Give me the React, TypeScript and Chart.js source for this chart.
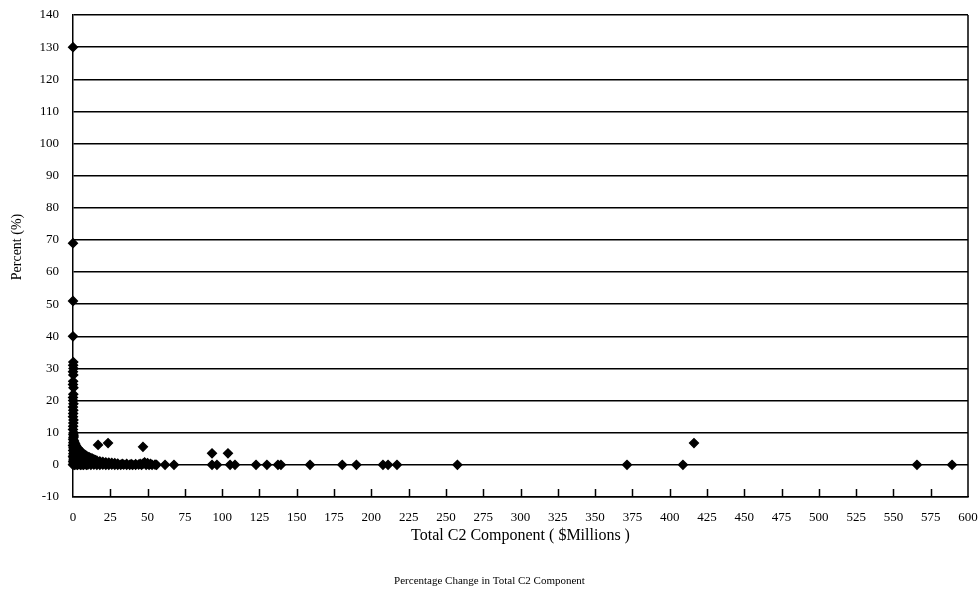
import { useEffect, useRef } from "react";
import { Chart, registerables } from "chart.js";

Chart.register(...registerables);

const SERIF = "'Liberation Serif', 'Times New Roman', serif";

// Axis ranges and tick spacing
const X_MIN = 0;
const X_MAX = 600;
const X_STEP = 25;
const Y_MIN = -10;
const Y_MAX = 140;
const Y_STEP = 10;

const Y_TITLE = "Percent (%)";

// Observations sitting right on the vertical axis (tiny C2 totals)
const axisX = [0, 0, 0, 0, 0.2, 0.1, 0.3, 0, 0.2, 0.1, 0, 0.3, 0.2, 0, 0.1, 0.3, 0, 0.2, 0.1, 0, 0.3, 0.2, 0.1, 0, 0.4, 0.2, 0.5, 0.3, 0.1, 0.6, 0.2, 0.4, 0, 0.3, 0.5, 0.1, 0.7, 0.2, 0.4, 0, 0.6, 0.3, 0.1, 0.5, 0];
const axisY = [130, 69, 51, 40, 32, 31, 30, 29, 28, 26, 25, 24, 22, 21, 20, 19, 18, 17, 16, 15, 14, 13, 12, 11, 10, 9.5, 9, 8.5, 8, 7.5, 7, 6.5, 6, 5.5, 5, 4.5, 4, 3.5, 3, 2.5, 2, 1.5, 1, 0.5, 0];

// Dense group of small components, falling off toward zero
const clusterX = [
  1, 1.5, 2, 3, 4, 5, 6, 7, 8, 9, 10, 11, 12, 13, 14, 15, 16, 18, 20, 22, 24, 26, 28, 30, 33, 36, 39, 42, 45, 48, 50, 52, 55,
  1, 2, 3, 4, 5, 6, 7, 8, 9, 10, 11, 12, 13, 14, 16, 18,
  1, 2, 3, 4, 5, 6, 7, 8, 9, 10, 12, 14, 16, 18, 20, 22, 24, 26, 28, 30, 32, 34, 36, 38, 40, 42, 44, 46, 47, 49, 51, 53, 56,
];
const clusterY = [
  7, 6.5, 6, 5.3, 4.8, 4.3, 3.8, 3.4, 3.1, 2.8, 2.5, 2.3, 2.1, 1.9, 1.7, 1.5, 1.3, 1.1, 0.9, 0.8, 0.7, 0.6, 0.5, 0.4, 0.3, 0.3, 0.2, 0.2, 0.3, 0.8, 0.5, 0.3, 0.1,
  3.4, 3, 2.6, 2.3, 2.1, 1.9, 1.7, 1.5, 1.3, 1.2, 1.1, 1, 0.9, 0.8, 0.6, 0.5,
  0, 0.1, 0, 0.2, 0, 0.1, 0, 0.2, 0, 0.1, 0, 0.1, 0, 0, 0.1, 0, 0, 0.1, 0, 0, 0, 0.1, 0, 0, 0, 0, 0.1, 0, 0.4, 0, 0, 0, 0,
];

// Larger components spread along the axis
const spreadX = [16.8, 23.5, 46.9, 61.7, 67.7, 93.2, 96.5, 93.2, 103.9, 105.3, 108.6, 122.7, 130, 137.4, 139.4, 158.9, 180.5, 190, 207.8, 211.2, 217.2, 257.7, 371.4, 408.9, 416.3, 565.8, 589.3];
const spreadY = [6.2, 6.8, 5.6, 0, 0, 0, 0, 3.6, 3.6, 0, 0, 0, 0, 0, 0, 0, 0, 0, 0, 0, 0, 0, 0, 0, 6.8, 0, 0];

const pairs = (xs: number[], ys: number[]) => xs.map((x, i) => ({ x, y: ys[i] }));

// Right-hand frame edge, inward-pointing tick marks and the rotated value-axis title
const framePlugin = {
  id: "frame",
  beforeDatasetsDraw(chart: any) {
    const { ctx, chartArea, scales } = chart;
    const xs = scales.x;
    ctx.save();
    ctx.strokeStyle = "#000";
    ctx.lineWidth = 1.5;
    ctx.beginPath();
    ctx.moveTo(chartArea.right, chartArea.top);
    ctx.lineTo(chartArea.right, chartArea.bottom);
    for (let v = X_MIN + X_STEP; v < X_MAX; v += X_STEP) {
      const px = Math.round(xs.getPixelForValue(v)) + 0.5;
      ctx.moveTo(px, chartArea.bottom);
      ctx.lineTo(px, chartArea.bottom - 8);
    }
    ctx.stroke();

    ctx.translate(17, 247);
    ctx.rotate(-Math.PI / 2);
    ctx.fillStyle = "#000";
    ctx.font = `14px ${SERIF}`;
    ctx.textAlign = "center";
    ctx.textBaseline = "middle";
    ctx.fillText(Y_TITLE, 0, 0);
    ctx.restore();
  },
};

export default function App() {
  const ref = useRef<HTMLCanvasElement | null>(null);

  useEffect(() => {
    if (!ref.current) return;
    const chart = new Chart(ref.current, {
      type: "scatter",
      data: {
        datasets: [
          {
            label: "Percentage Change",
            data: [...pairs(axisX, axisY), ...pairs(clusterX, clusterY), ...pairs(spreadX, spreadY)],
            backgroundColor: "#000",
            borderColor: "#000",
            borderWidth: 1.4,
            pointStyle: "rectRot",
            pointRadius: 4.4,
            clip: false,
          },
        ],
      },
      options: {
        animation: false,
        responsive: false,
        layout: { padding: { left: 0, top: 15, right: 0, bottom: 0 } },
        plugins: {
          legend: { display: false },
          tooltip: { enabled: false },
          title: {
            display: true,
            position: "bottom",
            text: "Percentage Change in Total C2 Component",
            color: "#000",
            font: { family: SERIF, size: 11, weight: "normal" },
            padding: { top: 0, bottom: 7.4 },
          },
        },
        scales: {
          x: {
            type: "linear",
            min: X_MIN,
            max: X_MAX,
            afterFit(scale: any) {
              scale.height = 77.4;
              scale.paddingLeft = 0;
              scale.paddingRight = 11;
            },
            ticks: {
              stepSize: X_STEP,
              autoSkip: false,
              maxRotation: 0,
              padding: 13,
              color: "#000",
              font: { family: SERIF, size: 13 },
            },
            grid: { display: false, drawTicks: false },
            border: { display: true, color: "#000", width: 1.5 },
            title: {
              display: true,
              text: "Total C2 Component ( $Millions )",
              color: "#000",
              font: { family: SERIF, size: 16 },
              padding: { top: 0, bottom: 28.8 },
            },
          },
          y: {
            type: "linear",
            min: Y_MIN,
            max: Y_MAX,
            afterFit(scale: any) {
              scale.width = 73;
              scale.paddingTop = 0;
              scale.paddingBottom = 0;
            },
            ticks: {
              stepSize: Y_STEP,
              padding: 14,
              color: "#000",
              font: { family: SERIF, size: 13 },
            },
            grid: { color: "#000", lineWidth: 1.5, drawTicks: false },
            border: { display: true, color: "#000", width: 1.5 },
          },
        },
      },
      plugins: [framePlugin],
    });
    return () => chart.destroy();
  }, []);

  return (
    <div style={{ position: "absolute", left: 0, top: 0, width: 979, height: 595, background: "#fff" }}>
      <canvas ref={ref} width={979} height={595} />
    </div>
  );
}
